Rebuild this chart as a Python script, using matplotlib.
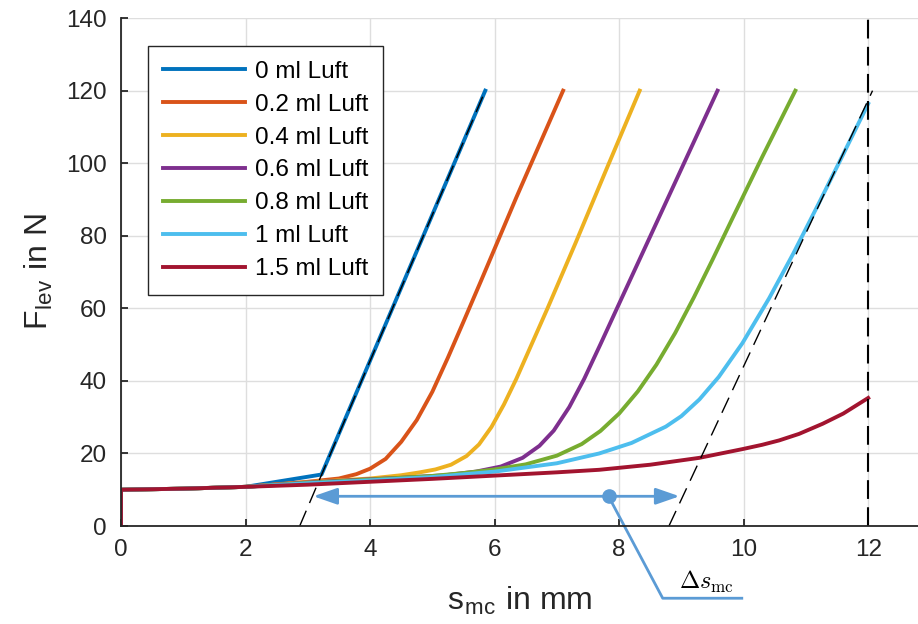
import matplotlib
matplotlib.use('Agg')
import matplotlib.pyplot as plt

plt.rcParams['font.family'] = ['Liberation Sans', 'DejaVu Sans']
plt.rcParams['mathtext.fontset'] = 'cm'

labels = ['0 ml Luft', '0.2 ml Luft', '0.4 ml Luft', '0.6 ml Luft',
          '0.8 ml Luft', '1 ml Luft', '1.5 ml Luft']
colors = ['#0072BD', '#D95319', '#EDB120', '#7E2F8E', '#77AC30', '#4DBEEE', '#A2142F']

# stroke s_mc in mm, force F_lev in N
s_00 = [0, 0, 1, 2, 3.22, 5.85]
F_00 = [0, 10, 10.3, 10.8, 14.2, 120]

s_02 = [0, 0, 1, 2, 3, 3.5, 3.78, 4.0, 4.25, 4.5, 4.75, 5.0, 5.25, 5.5, 5.78, 6.35, 7.10]
F_02 = [0, 10, 10.3, 10.8, 12.2, 13.1, 14.3, 15.8, 18.5, 23.2, 29.2, 37.0, 46.4, 56.3, 67.5, 90.6, 120]

s_04 = [0, 0, 1, 2, 3, 4, 4.5, 4.8, 5.05, 5.3, 5.55, 5.75, 5.95, 6.15, 6.35, 6.6, 6.85,
        7.3, 7.8, 8.33]
F_04 = [0, 10, 10.3, 10.8, 12.1, 13.1, 14.0, 14.8, 15.6, 16.9, 19.3, 22.5, 27.3, 33.5, 40.6,
        50.3, 60.0, 78.0, 98.5, 120]

s_06 = [0, 0, 1, 2, 3, 4, 4.5, 5.2, 5.7, 6.1, 6.45, 6.72, 6.95, 7.2, 7.44, 7.7, 7.96,
        8.52, 9.05, 9.58]
F_06 = [0, 10, 10.3, 10.8, 12.0, 12.9, 13.3, 14.0, 15.0, 16.4, 18.8, 22.1, 26.3, 32.8, 40.6,
        50.1, 59.8, 80.6, 100.3, 120]

s_08 = [0, 0, 1, 2, 3, 4, 5, 5.5, 6.0, 6.5, 7.0, 7.4, 7.7, 8.0, 8.3, 8.6, 8.9, 9.2, 9.5,
        9.8, 10.3, 10.83]
F_08 = [0, 10, 10.3, 10.8, 11.9, 12.8, 13.8, 14.6, 15.6, 17.0, 19.4, 22.6, 26.2, 31.0, 37.1,
        44.5, 53.2, 63.0, 73.4, 84.1, 101.8, 120]

s_10 = [0, 0, 1, 2, 3, 4, 5, 6, 7, 7.68, 8.2, 8.75, 9.0, 9.29, 9.6, 9.98, 10.41, 10.8,
        11.2, 11.6, 12.0]
F_10 = [0, 10, 10.3, 10.8, 11.8, 12.6, 13.5, 15.0, 17.3, 20.0, 22.9, 27.4, 30.3, 34.9, 41.1,
        50.4, 62.8, 75.2, 88.7, 102.5, 116.4]

s_15 = [0, 0, 1, 2, 3, 4, 5, 6, 7, 7.68, 8.5, 9.29, 9.98, 10.3, 10.57, 10.89, 11.27,
        11.6, 12.0]
F_15 = [0, 10, 10.3, 10.8, 11.4, 12.2, 13.0, 13.9, 14.8, 15.5, 16.9, 18.8, 21.2, 22.4, 23.6,
        25.4, 28.2, 31.0, 35.3]

# tangent lines and stroke limit
tan1_s = [2.87, 5.85]
tan2_s = [8.80, 12.07]
tan_F = [0, 120]
s_limit = 12

# delta s annotation
arrow_F = 8.2
arrow_s = [3.09, 8.97]
dot_s = 7.83
leader_s = [7.83, 8.70, 9.97]
leader_F = [8.2, -19.9, -19.9]

series = [(s_00, F_00), (s_02, F_02), (s_04, F_04), (s_06, F_06),
          (s_08, F_08), (s_10, F_10), (s_15, F_15)]

fig = plt.figure(figsize=(9.18, 6.24), dpi=100)
ax = fig.add_axes([0.1318, 0.157, 0.8682, 0.814])

for (s, F), c, lab in zip(series, colors, labels):
    ax.plot(s, F, color=c, lw=2.8, label=lab, solid_joinstyle='round')

for ts in (tan1_s, tan2_s):
    ln, = ax.plot(ts, tan_F, color='k', lw=1.0)
    ln.set_dashes([12, 6])
vl, = ax.plot([s_limit, s_limit], [0, 140], color='k', lw=1.5)
vl.set_dashes([9, 4])

acol = '#5B9BD5'
ax.annotate('', xy=(arrow_s[0], arrow_F), xytext=(arrow_s[1], arrow_F),
            arrowprops=dict(arrowstyle='<|-|>,head_length=0.72,head_width=0.25',
                            color=acol, lw=2, mutation_scale=20,
                            shrinkA=0, shrinkB=0))
ax.plot(dot_s, arrow_F, 'o', color=acol, ms=9.5, zorder=5)
ax.plot(leader_s, leader_F, color=acol, lw=2, clip_on=False)
ax.text(9.40, -19.0, r'$\Delta s_{\mathrm{mc}}$', ha='center', va='bottom', fontsize=17.5)

ax.set_xlim(0, 12.8)
ax.set_ylim(0, 140)
ax.set_xticks(range(0, 13, 2))
ax.set_yticks(range(0, 141, 20))
ax.grid(True, color='#DEDEDE', lw=1)
ax.set_axisbelow(True)
for side in ['top', 'right']:
    ax.spines[side].set_visible(False)
for side in ['left', 'bottom']:
    ax.spines[side].set_color('#262626')
    ax.spines[side].set_linewidth(1.3)
ax.tick_params(direction='in', length=5, width=1.3, colors='#262626',
               labelsize=17.5, pad=9)
ax.tick_params(axis='y', pad=10)

ax.set_xlabel('s$_{\\mathregular{mc}}$ in mm', fontsize=23, color='#262626', labelpad=17)
ax.set_ylabel('F$_{\\mathregular{lev}}$ in N', fontsize=23, color='#262626', labelpad=8)

leg = ax.legend(loc='upper left', bbox_to_anchor=(0.034, 0.945), fontsize=17.5,
                handlelength=3.4, labelspacing=0.45, borderpad=0.6, handletextpad=0.4,
                borderaxespad=0, fancybox=False, framealpha=1)
leg.get_frame().set_edgecolor('#262626')
leg.get_frame().set_linewidth(1.0)

fig.savefig('out.png', dpi=100)
